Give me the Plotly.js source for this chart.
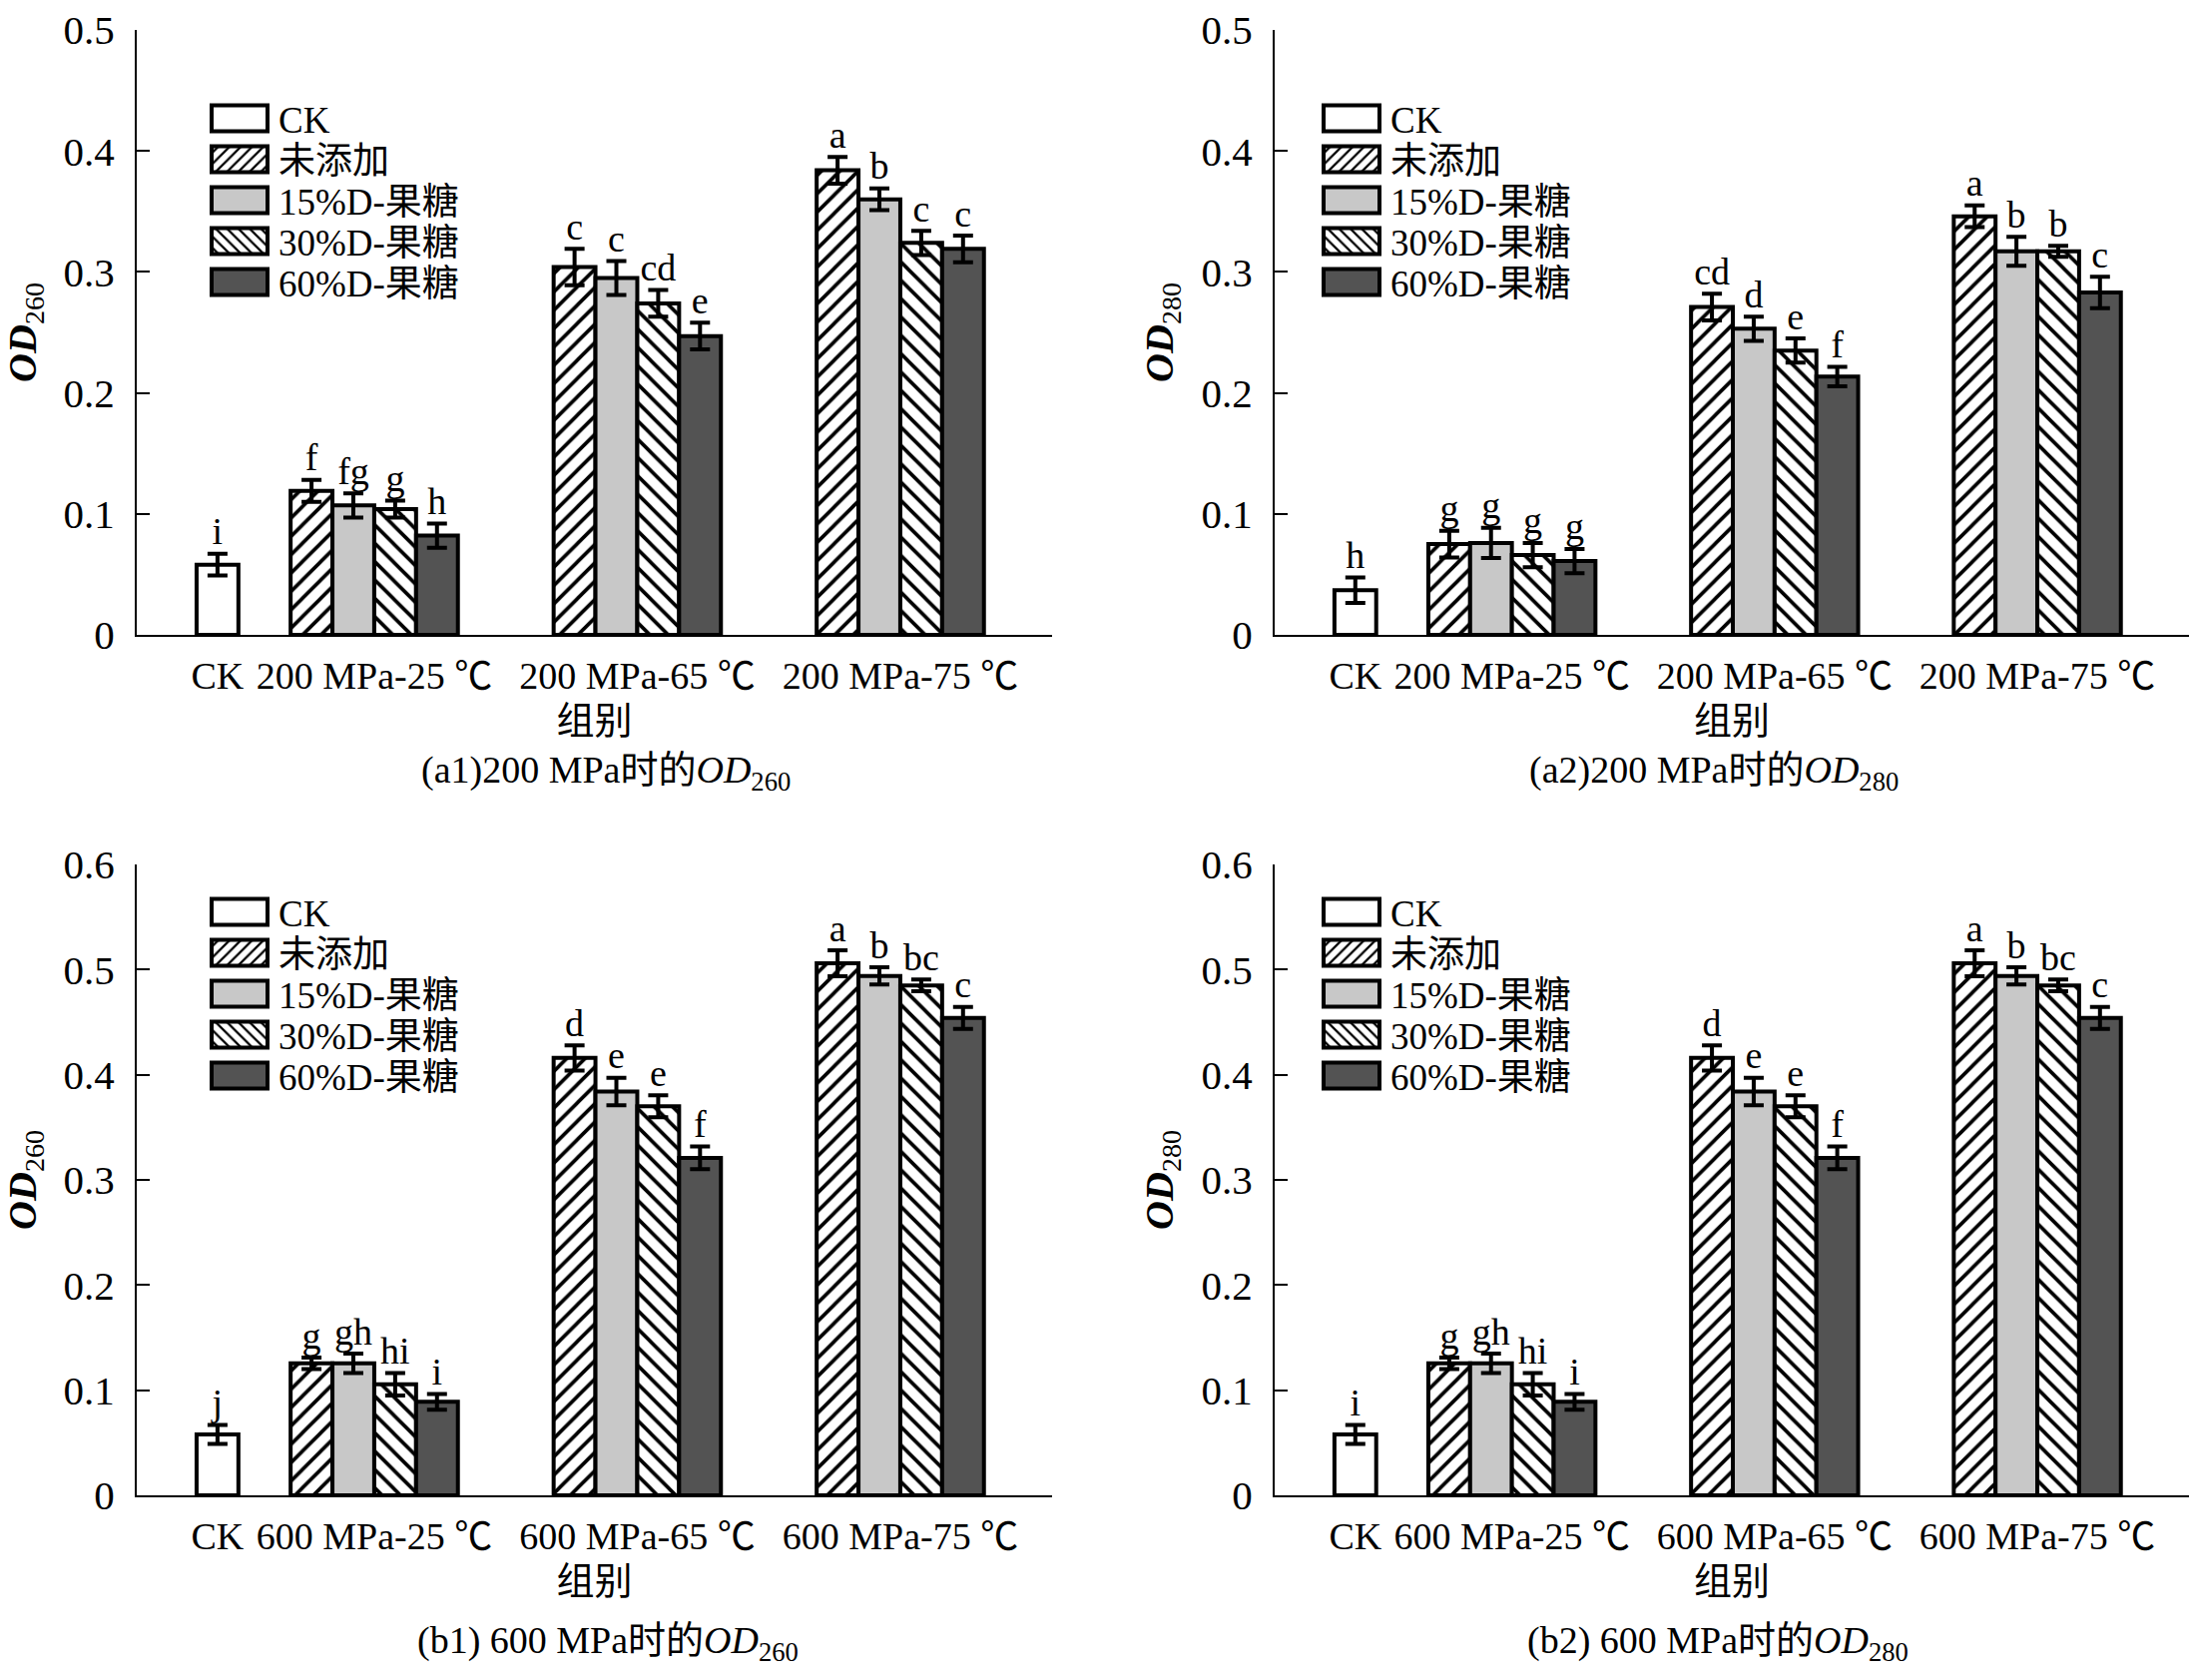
<!DOCTYPE html>
<html>
<head>
<meta charset="utf-8">
<script src="https://cdn.plot.ly/plotly-3.0.1.min.js"></script>
<style>html,body{margin:0;padding:0;background:#fff;}#chart{width:2194px;height:1683px;}</style>
</head>
<body>
<div id="chart"></div>
<script>
// ---------- DATA ----------
const seriesNames = ["CK", "未添加", "15%D-果糖", "30%D-果糖", "60%D-果糖"];
const catsA = ["CK", "200 MPa-25 ℃", "200 MPa-65 ℃", "200 MPa-75 ℃"];
const catsB = ["CK", "600 MPa-25 ℃", "600 MPa-65 ℃", "600 MPa-75 ℃"];

// (a1) 200 MPa OD260
const a1_ck = 0.058, a1_ckErr = 0.009, a1_ckLetter = "i";
const a1_none = [0.119, 0.304, 0.384], a1_noneErr = [0.009, 0.015, 0.011], a1_noneL = ["f", "c", "a"];
const a1_15 = [0.107, 0.295, 0.360], a1_15Err = [0.010, 0.014, 0.009], a1_15L = ["fg", "c", "b"];
const a1_30 = [0.104, 0.274, 0.324], a1_30Err = [0.007, 0.011, 0.010], a1_30L = ["g", "cd", "c"];
const a1_60 = [0.082, 0.247, 0.319], a1_60Err = [0.010, 0.011, 0.011], a1_60L = ["h", "e", "c"];

// (a2) 200 MPa OD280
const a2_ck = 0.037, a2_ckErr = 0.0105, a2_ckLetter = "h";
const a2_none = [0.075, 0.271, 0.346], a2_noneErr = [0.011, 0.011, 0.009], a2_noneL = ["g", "cd", "a"];
const a2_15 = [0.076, 0.253, 0.317], a2_15Err = [0.0125, 0.010, 0.012], a2_15L = ["g", "d", "b"];
const a2_30 = [0.066, 0.235, 0.317], a2_30Err = [0.010, 0.010, 0.0045], a2_30L = ["g", "e", "b"];
const a2_60 = [0.061, 0.2135, 0.283], a2_60Err = [0.010, 0.008, 0.013], a2_60L = ["g", "f", "c"];

// (b1) 600 MPa OD260
const b1_ck = 0.058, b1_ckErr = 0.009, b1_ckLetter = "j";
const b1_none = [0.1256, 0.416, 0.506], b1_noneErr = [0.0054, 0.012, 0.0123], b1_noneL = ["g", "d", "a"];
const b1_15 = [0.1256, 0.384, 0.494], b1_15Err = [0.0092, 0.013, 0.0082], b1_15L = ["gh", "e", "b"];
const b1_30 = [0.1057, 0.370, 0.485], b1_30Err = [0.0107, 0.0105, 0.0056], b1_30L = ["hi", "e", "bc"];
const b1_60 = [0.0889, 0.321, 0.454], b1_60Err = [0.0074, 0.0107, 0.0105], b1_60L = ["i", "f", "c"];

// (b2) 600 MPa OD280
const b2_ck = 0.058, b2_ckErr = 0.009, b2_ckLetter = "i";
const b2_none = [0.1256, 0.416, 0.506], b2_noneErr = [0.0054, 0.012, 0.0123], b2_noneL = ["g", "d", "a"];
const b2_15 = [0.1256, 0.384, 0.494], b2_15Err = [0.0092, 0.013, 0.0082], b2_15L = ["gh", "e", "b"];
const b2_30 = [0.1057, 0.370, 0.485], b2_30Err = [0.0107, 0.0105, 0.0056], b2_30L = ["hi", "e", "bc"];
const b2_60 = [0.0889, 0.321, 0.454], b2_60Err = [0.0074, 0.0107, 0.0105], b2_60L = ["i", "f", "c"];

// ---------- STYLE / LAYOUT HELPERS ----------
const SERIF = "'Liberation Serif', 'Times New Roman', 'Noto Sans CJK SC', serif";
const ckPos = 0.404, groupPos = [1, 2, 3], barW = 0.159;
const xRange = [0.097, 3.577];
const fills = [
  {color: "white", pattern: null},
  {color: "white", pattern: {shape: "/", fgcolor: "black", bgcolor: "white", size: 13, solidity: 0.28, fillmode: "replace"}},
  {color: "#c8c8c8", pattern: null},
  {color: "white", pattern: {shape: "\\", fgcolor: "black", bgcolor: "white", size: 13, solidity: 0.28, fillmode: "replace"}},
  {color: "#535353", pattern: null}
];

function panel(idx, ck, ckErr, ckL, groups, errs, letters) {
  const xa = idx === 1 ? "x" : "x" + idx;
  const ya = idx === 1 ? "y" : "y" + idx;
  const leg = idx === 1 ? "legend" : "legend" + idx;
  const traces = [];
  const lx = [], ly = [], lt = [];
  traces.push({
    type: "bar", name: seriesNames[0], x: [ckPos], y: [ck], width: barW,
    xaxis: xa, yaxis: ya, legend: leg,
    marker: {color: fills[0].color, line: {color: "black", width: 4}},
    error_y: {type: "data", array: [ckErr], color: "black", thickness: 4, width: 10}
  });
  lx.push(ckPos); ly.push(ck + ckErr); lt.push(ckL);
  groups.forEach((vals, i) => {
    const xs = groupPos.map(p => p + (i - 1.5) * barW);
    const m = {color: fills[i + 1].color, line: {color: "black", width: 4}};
    if (fills[i + 1].pattern) m.pattern = fills[i + 1].pattern;
    traces.push({
      type: "bar", name: seriesNames[i + 1], x: xs, y: vals, width: barW,
      xaxis: xa, yaxis: ya, legend: leg, marker: m,
      error_y: {type: "data", array: errs[i], color: "black", thickness: 4, width: 10}
    });
    xs.forEach((x, k) => { lx.push(x); ly.push(vals[k] + errs[i][k]); lt.push(letters[i][k]); });
  });
  traces.push({
    type: "scatter", mode: "text", x: lx, y: ly, text: lt, textposition: "top center",
    textfont: {family: SERIF, size: 38, color: "black"},
    xaxis: xa, yaxis: ya, showlegend: false, hoverinfo: "skip", cliponaxis: false
  });
  return traces;
}

const data = [].concat(
  panel(1, a1_ck, a1_ckErr, a1_ckLetter, [a1_none, a1_15, a1_30, a1_60], [a1_noneErr, a1_15Err, a1_30Err, a1_60Err], [a1_noneL, a1_15L, a1_30L, a1_60L]),
  panel(2, a2_ck, a2_ckErr, a2_ckLetter, [a2_none, a2_15, a2_30, a2_60], [a2_noneErr, a2_15Err, a2_30Err, a2_60Err], [a2_noneL, a2_15L, a2_30L, a2_60L]),
  panel(3, b1_ck, b1_ckErr, b1_ckLetter, [b1_none, b1_15, b1_30, b1_60], [b1_noneErr, b1_15Err, b1_30Err, b1_60Err], [b1_noneL, b1_15L, b1_30L, b1_60L]),
  panel(4, b2_ck, b2_ckErr, b2_ckLetter, [b2_none, b2_15, b2_30, b2_60], [b2_noneErr, b2_15Err, b2_30Err, b2_60Err], [b2_noneL, b2_15L, b2_30L, b2_60L])
);

const W = 2194, H = 1683;
const px = v => v / W, py = v => 1 - v / H;

function xAxis(domain, anchor, cats) {
  return {
    domain: domain, anchor: anchor, type: "linear", range: xRange,
    tickvals: [ckPos].concat(groupPos), ticktext: cats,
    ticks: "", showline: true, linecolor: "black", linewidth: 2,
    showgrid: false, zeroline: false, fixedrange: true,
    tickfont: {family: SERIF, size: 38, color: "black"}, ticklabelstandoff: 6,
    title: {text: "组别", font: {family: SERIF, size: 38, color: "black"}, standoff: 12}
  };
}
function yAxis(domain, anchor, maxV, sub) {
  return {
    domain: domain, anchor: anchor, range: [0, maxV], dtick: 0.1, tick0: 0,
    ticks: "inside", ticklen: 13, tickwidth: 2, tickcolor: "black",
    showline: true, linecolor: "black", linewidth: 2,
    showgrid: false, zeroline: false, fixedrange: true,
    tickfont: {family: SERIF, size: 41, color: "black"}, ticklabelstandoff: 12,
    title: {text: "<b><i>OD</i></b><sub>" + sub + "</sub>", font: {family: SERIF, size: 40, color: "black"}, standoff: 16}
  };
}
function legendAt(x, y) {
  return {
    x: x, y: y, xanchor: "left", yanchor: "top", bgcolor: "rgba(0,0,0,0)",
    font: {family: SERIF, size: 37, color: "black"}, itemwidth: 68,
    traceorder: "normal", tracegroupgap: 0, borderwidth: 0
  };
}
const capFont = {family: SERIF, size: 38, color: "black"};
function caption(text, x, y) {
  return {text: text, x: px(x), y: py(y), xref: "paper", yref: "paper", xanchor: "center", yanchor: "middle", showarrow: false, font: capFont};
}

const layout = {
  width: W, height: H, margin: {l: 0, r: 0, t: 0, b: 0},
  paper_bgcolor: "white", plot_bgcolor: "white", barmode: "overlay", showlegend: true,
  xaxis: xAxis([px(137), px(1054)], "y", catsA),
  yaxis: yAxis([py(636), py(30)], "x", 0.5, "260"),
  xaxis2: xAxis([px(1277), 0.9995], "y2", catsA),
  yaxis2: yAxis([py(636), py(30)], "x2", 0.5, "280"),
  xaxis3: xAxis([px(137), px(1054)], "y3", catsB),
  yaxis3: yAxis([py(1498), py(866)], "x3", 0.6, "260"),
  xaxis4: xAxis([px(1277), 0.9995], "y4", catsB),
  yaxis4: yAxis([py(1498), py(866)], "x4", 0.6, "280"),
  legend: legendAt(px(201), py(88)),
  legend2: legendAt(px(1315), py(88)),
  legend3: legendAt(px(201), py(883)),
  legend4: legendAt(px(1315), py(883)),
  annotations: [
    caption("(a1)200 MPa时的<i>OD</i><sub>260</sub>", 607, 774),
    caption("(a2)200 MPa时的<i>OD</i><sub>280</sub>", 1717, 774),
    caption("(b1) 600 MPa时的<i>OD</i><sub>260</sub>", 609, 1646),
    caption("(b2) 600 MPa时的<i>OD</i><sub>280</sub>", 1721, 1646)
  ]
};

const ROW = 41;
function fixLegends() {
  document.querySelectorAll("g.infolayer > g").forEach(function (lg) {
    const cls = lg.getAttribute("class") || "";
    if (!/^legend\d*$/.test(cls.trim())) return;
    const items = lg.querySelectorAll("g.traces");
    let y0 = null, x0 = 0;
    items.forEach(function (it, i) {
      const tr = it.getAttribute("transform") || "";
      const m = tr.match(/translate\(\s*([-\d.]+)[ ,]+([-\d.]+)\s*\)/);
      if (!m) return;
      if (i === 0) { x0 = parseFloat(m[1]); y0 = it.__y0 !== undefined ? it.__y0 : parseFloat(m[2]); it.__y0 = y0; }
      if (y0 === null) return;
      it.setAttribute("transform", "translate(" + x0 + "," + (y0 + i * ROW) + ")");
    });
    lg.querySelectorAll("g.legendpoints path").forEach(function (p) {
      p.setAttribute("d", "M28,13H-28V-13H28Z");
      p.style.strokeWidth = "4px";
      p.style.stroke = "rgb(0,0,0)";
    });
  });
}

Plotly.newPlot("chart", data, layout, {staticPlot: true}).then(function (gd) {
  fixLegends();
  gd.on("plotly_afterplot", fixLegends);
  setTimeout(fixLegends, 50);
  setTimeout(fixLegends, 300);
});
</script>
</body>
</html>
